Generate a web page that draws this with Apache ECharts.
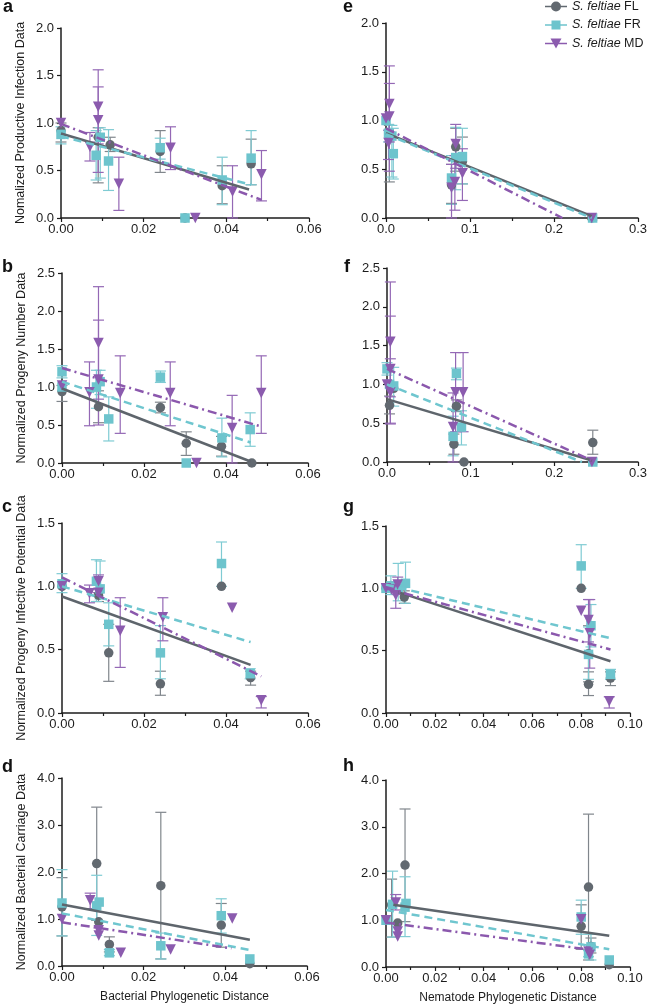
<!DOCTYPE html>
<html><head><meta charset="utf-8">
<script src="https://cdn.jsdelivr.net/npm/echarts@6/dist/echarts.min.js"></script>
<style>html,body{margin:0;padding:0;background:#fff}#c{width:650px;height:1007px}</style>
</head><body><div id="c"></div><script>
// ---- data: [x, y, errLow, errHigh] ----
const A_FL = [[0,0.92,0.80,1.00],[0.009,0.85,0.37,0.95],[0.0119,0.77,0.70,0.85],[0.024,0.70,0.48,0.92],[0.030,0,null,null],[0.039,0.34,0.15,0.55],[0.046,0.57,0.35,0.83]];
const A_FR = [[0,0.88,0.78,0.96],[0.0085,0.66,0.40,0.92],[0.0095,0.85,0.42,0.95],[0.0115,0.60,0.29,0.93],[0.024,0.74,0.62,0.84],[0.030,0,null,null],[0.039,0.40,0.14,0.64],[0.046,0.63,0.35,0.92]];
const A_MD = [[0,1.00,null,null],[0.007,0.75,0.60,0.90],[0.009,1.17,0.78,1.56],[0.009,1.03,0.48,1.38],[0.014,0.36,0.08,0.64],[0.0265,0.74,0.51,0.96],[0.0325,0,null,null],[0.0415,0.28,0,0.55],[0.0485,0.46,0.18,0.71]];
const A_LFL = [[0,0.89],[0.0455,0.30]];
const A_LFR = [[0,0.86],[0.046,0.35]];
const A_LMD = [[0,0.99],[0.0485,0.19]];

const E_FL = [[0.004,0.85,0.37,0.95],[0.078,0.34,0.15,0.55],[0.083,0.73,0.48,0.92],[0.091,0.58,0.35,0.83],[0.245,0,null,null]];
const E_FR = [[0,1.00,null,null],[0.003,0.87,0.78,0.96],[0.007,0.84,0.42,0.95],[0.0087,0.66,0.40,0.92],[0.078,0.41,0.14,0.64],[0.083,0.62,0.29,0.93],[0.091,0.63,0.35,0.92],[0.246,0,null,null]];
const E_MD = [[0,1.02,null,null],[0.004,1.17,0.78,1.56],[0.004,1.04,0.48,1.38],[0.003,0.77,0.60,0.90],[0.078,0.31,0,0.55],[0.082,0.37,0.08,0.64],[0.083,0.76,0.51,0.96],[0.091,0.46,0.18,0.71],[0.245,0,null,null]];
const E_LFL = [[0,0.87],[0.245,0.02]];
const E_LFR = [[0,0.86],[0.245,0.0]];
const E_LMD = [[0,0.92],[0.21,0.0]];

const B_FL = [[0,0.94,0.81,1.02],[0.0089,0.74,0.53,0.95],[0.024,0.73,0.66,0.80],[0.0303,0.26,0.10,0.41],[0.0389,0.22,0.09,0.35],[0.0463,0,null,null]];
const B_FR = [[0,1.20,1.12,1.28],[0,1.00,null,null],[0.0084,1.00,0.72,1.22],[0.0093,1.07,0.90,1.22],[0.0114,0.58,0.29,0.87],[0.024,1.13,1.06,1.21],[0.0303,0,null,null],[0.039,0.33,0.08,0.59],[0.0459,0.44,0.22,0.66]];
const B_MD = [[0,1.02,null,null],[0.0067,0.93,0.49,1.33],[0.0089,1.58,0.84,2.32],[0.0089,1.10,0.50,1.88],[0.0142,0.92,0.39,1.41],[0.0264,0.92,0.49,1.33],[0.0328,0,null,null],[0.0415,0.46,0,0.89],[0.0486,0.92,0.39,1.41]];
const B_LFL = [[0,0.98],[0.046,0.02]];
const B_LFR = [[0,1.07],[0.046,0.27]];
const B_LMD = [[0,1.25],[0.0486,0.48]];

const F_FL = [[0.003,0.73,0.62,0.85],[0.008,0.95,null,null],[0.080,0.23,0.10,0.36],[0.083,0.72,0.65,0.80],[0.092,0,null,null],[0.246,0.25,0.10,0.41]];
const F_FR = [[0,1.20,1.12,1.28],[0.003,1.00,null,null],[0.008,0.98,0.72,1.22],[0.079,0.33,0.08,0.59],[0.083,1.14,1.06,1.21],[0.089,0.45,0.22,0.66],[0.246,0,null,null]];
const F_MD = [[0,1.00,null,null],[0.004,1.55,0.84,2.32],[0.004,1.20,0.50,1.88],[0.004,0.90,0.49,1.33],[0.079,0.45,0,0.89],[0.082,0.90,0.39,1.41],[0.091,0.90,0.39,1.41],[0.245,0,null,null]];
const F_LFL = [[0,0.81],[0.245,0.02]];
const F_LFR = [[0,1.00],[0.233,0.0]];
const F_LMD = [[0,1.20],[0.245,0.02]];

const C_FL = [[0,1.00,null,null],[0.0089,0.93,0.88,0.98],[0.0114,0.475,0.25,0.70],[0.024,0.23,0.14,0.33],[0.0389,1.00,null,null],[0.046,0.28,0.22,0.33]];
const C_FR = [[0,1.02,0.95,1.10],[0.0084,1.04,0.88,1.21],[0.0093,0.98,0.90,1.20],[0.0114,0.70,0.53,0.87],[0.024,0.475,0.27,0.69],[0.0389,1.18,1.00,1.35],[0.0459,0.31,0.27,0.35]];
const C_MD = [[0,1.00,null,null],[0.0067,0.945,0.87,1.01],[0.0089,1.04,0.95,1.09],[0.0089,0.95,null,null],[0.0142,0.65,0.36,0.91],[0.0246,0.755,0.57,0.91],[0.0415,0.83,null,null],[0.0486,0.10,0.04,0.13]];
const C_LFL = [[0,0.92],[0.046,0.38]];
const C_LFR = [[0,1.00],[0.046,0.56]];
const C_LMD = [[0,1.07],[0.0486,0.29]];

const G_FL = [[0,1.00,null,null],[0.0075,0.93,0.88,0.98],[0.080,1.00,null,null],[0.083,0.23,0.14,0.33],[0.083,0.475,0.25,0.70],[0.092,0.28,0.22,0.33]];
const G_FR = [[0,1.00,null,null],[0.002,1.02,0.95,1.10],[0.005,1.00,0.90,1.20],[0.008,1.04,0.88,1.21],[0.080,1.18,1.00,1.35],[0.083,0.47,0.27,0.69],[0.084,0.70,0.53,0.87],[0.092,0.31,0.27,0.35]];
const G_MD = [[0,1.00,null,null],[0.0023,0.99,null,null],[0.004,0.945,0.84,1.05],[0.0048,1.03,0.95,1.09],[0.080,0.82,null,null],[0.083,0.745,0.57,0.91],[0.0835,0.64,0.36,0.91],[0.0915,0.094,0.04,0.13]];
const G_LFL = [[0.005,0.97],[0.092,0.415]];
const G_LFR = [[0,1.03],[0.092,0.60]];
const G_LMD = [[0,1.00],[0.092,0.51]];

const D_FL = [[0,1.26,0.64,1.88],[0.0085,2.18,0.97,3.38],[0.009,0.94,null,null],[0.0116,0.46,0.30,0.62],[0.0242,1.71,0.15,3.27],[0.039,0.87,0.40,1.33],[0.046,0.05,null,null]];
const D_FR = [[0,1.34,0.64,2.05],[0.0085,1.28,0.65,1.93],[0.0091,1.36,null,null],[0.0116,0.28,0.22,0.35],[0.0242,0.43,0.15,0.70],[0.039,1.07,0.70,1.43],[0.046,0.15,null,null]];
const D_MD = [[0,1.00,null,null],[0.0069,1.40,1.22,1.55],[0.009,0.76,null,null],[0.009,0.65,null,null],[0.0144,0.28,null,null],[0.0266,0.35,null,null],[0.0417,1.01,null,null]];
const D_LFL = [[0,1.31],[0.046,0.56]];
const D_LFR = [[0,1.12],[0.046,0.34]];
const D_LMD = [[0,0.93],[0.0415,0.375]];

const H_FL = [[0.0023,1.33,0.64,1.88],[0.0048,0.94,null,null],[0.0078,2.18,0.97,3.38],[0.080,0.87,0.38,1.33],[0.083,1.71,0.15,3.27],[0.084,0.44,0.30,0.62],[0.0915,0.05,null,null]];
const H_FR = [[0,1.00,null,null],[0.0027,1.34,0.64,2.05],[0.0078,1.28,0.65,1.93],[0.0082,1.36,null,null],[0.080,1.07,0.70,1.43],[0.083,0.28,0.22,0.35],[0.084,0.43,0.15,0.70],[0.0915,0.15,null,null]];
const H_MD = [[0,1.00,null,null],[0.004,1.38,1.22,1.55],[0.0048,0.76,null,null],[0.0048,0.65,null,null],[0.080,1.02,null,null],[0.083,0.33,null,null],[0.0835,0.26,null,null]];
const H_LFL = [[0.003,1.33],[0.0915,0.67]];
const H_LFR = [[0,1.22],[0.0915,0.38]];
const H_LMD = [[0,0.95],[0.0835,0.37]];

const SERIES_NAMES = ['S. feltiae FL','S. feltiae FR','S. feltiae MD'];
const Y_TITLES = ['Nomalized Productive Infection Data','Normalized Progeny Number Data','Normalized Progeny Infective Potential Data','Normalized Bacterial Carriage Data'];
const X_TITLES = ['Bacterial Phylogenetic Distance','Nematode Phylogenetic Distance'];

// ---- layout / style ----
const panels = [
 {L:'a', g:[61,28,248,190], xMax:0.06, xInt:0.02, xDec:2, yMax:2.0, yInt:0.5, yName:Y_TITLES[0], xName:'', lp:[3,13], d:[A_FL,A_FR,A_MD], l:[A_LFL,A_LFR,A_LMD]},
 {L:'e', g:[386,23,254,195], xMax:0.3, xInt:0.1, xDec:1, yMax:2.0, yInt:0.5, yName:'', xName:'', lp:[343,13], d:[E_FL,E_FR,E_MD], l:[E_LFL,E_LFR,E_LMD]},
 {L:'b', g:[62,273,246,190], xMax:0.06, xInt:0.02, xDec:2, yMax:2.5, yInt:0.5, yName:Y_TITLES[1], xName:'', lp:[2,273], d:[B_FL,B_FR,B_MD], l:[B_LFL,B_LFR,B_LMD]},
 {L:'f', g:[387,268,252,194], xMax:0.3, xInt:0.1, xDec:1, yMax:2.5, yInt:0.5, yName:'', xName:'', lp:[344,273], d:[F_FL,F_FR,F_MD], l:[F_LFL,F_LFR,F_LMD]},
 {L:'c', g:[62,523,246,190], xMax:0.06, xInt:0.02, xDec:2, yMax:1.5, yInt:0.5, yName:Y_TITLES[2], xName:'', lp:[2,513], d:[C_FL,C_FR,C_MD], l:[C_LFL,C_LFR,C_LMD]},
 {L:'g', g:[386,526,244,187], xMax:0.10, xInt:0.02, xDec:2, yMax:1.5, yInt:0.5, yName:'', xName:'', lp:[343,513], d:[G_FL,G_FR,G_MD], l:[G_LFL,G_LFR,G_LMD]},
 {L:'d', g:[62,778,245,188], xMax:0.06, xInt:0.02, xDec:2, yMax:4.0, yInt:1.0, yName:Y_TITLES[3], xName:X_TITLES[0], lp:[2,773], d:[D_FL,D_FR,D_MD], l:[D_LFL,D_LFR,D_LMD]},
 {L:'h', g:[386,780,244,187], xMax:0.10, xInt:0.02, xDec:2, yMax:4.0, yInt:1.0, yName:'', xName:X_TITLES[1], lp:[343,772], d:[H_FL,H_FR,H_MD], l:[H_LFL,H_LFR,H_LMD]}
];
const FONT = '"Liberation Sans", Arial, sans-serif';
const AX = '#1c1c1c';
const ptColor = ['#626970','#6dc4cd','#8b5bae'];
const errColor = ['#80868c','#7fcbd3','#9468b5'];
const lnColor = ['#5e656c','#6fc6cf','#8b58ad'];
const lnType = ['solid',[8,5],[9,4,2,4]];
const symbols = ['circle','rect','triangle'];
const symSize = [9.5,9.5,10.5];
const symRot = [0,0,180];

function errRender(color){
  return function(params, api){
    const x = api.value(0), lo = api.value(2), hi = api.value(3);
    const a = api.coord([x, hi]), b = api.coord([x, lo]);
    const w = 5.5;
    const st = {stroke: color, lineWidth: 1.2, fill: null};
    return {type:'group', children:[
      {type:'line', shape:{x1:a[0],y1:a[1],x2:b[0],y2:b[1]}, style:st},
      {type:'line', shape:{x1:a[0]-w,y1:a[1],x2:a[0]+w,y2:a[1]}, style:st},
      {type:'line', shape:{x1:b[0]-w,y1:b[1],x2:b[0]+w,y2:b[1]}, style:st}
    ]};
  };
}

const grid=[], xAxis=[], yAxis=[], series=[], graphic=[];
panels.forEach((p,i)=>{
  grid.push({left:p.g[0], top:p.g[1], width:p.g[2], height:p.g[3], containLabel:false});
  xAxis.push({type:'value', gridIndex:i, min:0, max:p.xMax, interval:p.xInt,
    axisLine:{show:true, onZero:false, lineStyle:{color:AX, width:1.5}},
    axisTick:{show:true, length:4, lineStyle:{color:AX, width:1.2}},
    minorTick:{show:true, splitNumber:2, length:3, lineStyle:{color:AX, width:1.2}},
    splitLine:{show:false}, minorSplitLine:{show:false},
    axisLabel:{formatter:v=>v.toFixed(p.xDec), fontSize:13, color:AX, fontFamily:FONT, margin:5, showMaxLabel:true, showMinLabel:true},
    name:p.xName, nameLocation:'middle', nameGap:25,
    nameTextStyle:{fontSize:12, color:AX, fontFamily:FONT}});
  yAxis.push({type:'value', gridIndex:i, min:0, max:p.yMax, interval:p.yInt,
    axisLine:{show:true, onZero:false, lineStyle:{color:AX, width:1.5}},
    axisTick:{show:true, length:4, lineStyle:{color:AX, width:1.2}},
    splitLine:{show:false},
    axisLabel:{formatter:v=>v.toFixed(1), fontSize:13, color:AX, fontFamily:FONT, margin:7},
    name:p.yName, nameLocation:'middle', nameGap:34, nameRotate:90,
    nameTextStyle:{fontSize:12.5, color:AX, fontFamily:FONT}});
  for(let s=0;s<3;s++){
    series.push({type:'custom', xAxisIndex:i, yAxisIndex:i, silent:true, clip:false,
      renderItem:errRender(errColor[s]), encode:{x:0, y:[2,3]},
      data:p.d[s].filter(r=>r[2]!=null)});
    series.push({type:'scatter', name:SERIES_NAMES[s], xAxisIndex:i, yAxisIndex:i, silent:true, clip:false,
      symbol:symbols[s], symbolSize:symSize[s], symbolRotate:symRot[s],
      itemStyle:{color:ptColor[s], opacity:1},
      data:p.d[s].map(r=>[r[0],r[1]])});
    series.push({type:'line', xAxisIndex:i, yAxisIndex:i, silent:true, showSymbol:false, symbol:'none',
      lineStyle:{color:lnColor[s], width:2.5, type:lnType[s], cap:'butt'},
      data:p.l[s]});
  }
  graphic.push({type:'text', x:p.lp[0], y:p.lp[1]-6, style:{text:p.L, font:'bold 18px '+FONT, fill:'#111', verticalAlign:'middle'}});
});

const lineBar = 'M0,4.3H22V5.7H0Z ';
const icons = [
  'path://'+lineBar+'M6,5A5,5 0 1,1 16,5A5,5 0 1,1 6,5Z',
  'path://'+lineBar+'M6.5,0.5H15.5V9.5H6.5Z',
  'path://'+lineBar+'M5.5,0H16.5L11,10Z'
];

const chart = echarts.init(document.getElementById('c'), null, {renderer:'canvas'});
chart.setOption({
  animation:false,
  backgroundColor:'#fff',
  grid, xAxis, yAxis, series, graphic,
  legend:{orient:'vertical', left:545, top:0, padding:0, itemWidth:22, itemHeight:10, itemGap:5.5,
    selectedMode:false,
    data:SERIES_NAMES.map((n,k)=>({name:n, icon:icons[k]})),
    formatter:n=>'{i|S. feltiae} '+n.split(' ')[2],
    textStyle:{fontSize:12.5, color:AX, fontFamily:FONT, rich:{i:{fontStyle:'italic', fontSize:12.5, fontFamily:FONT, color:AX}}}}
});
</script></body></html>
